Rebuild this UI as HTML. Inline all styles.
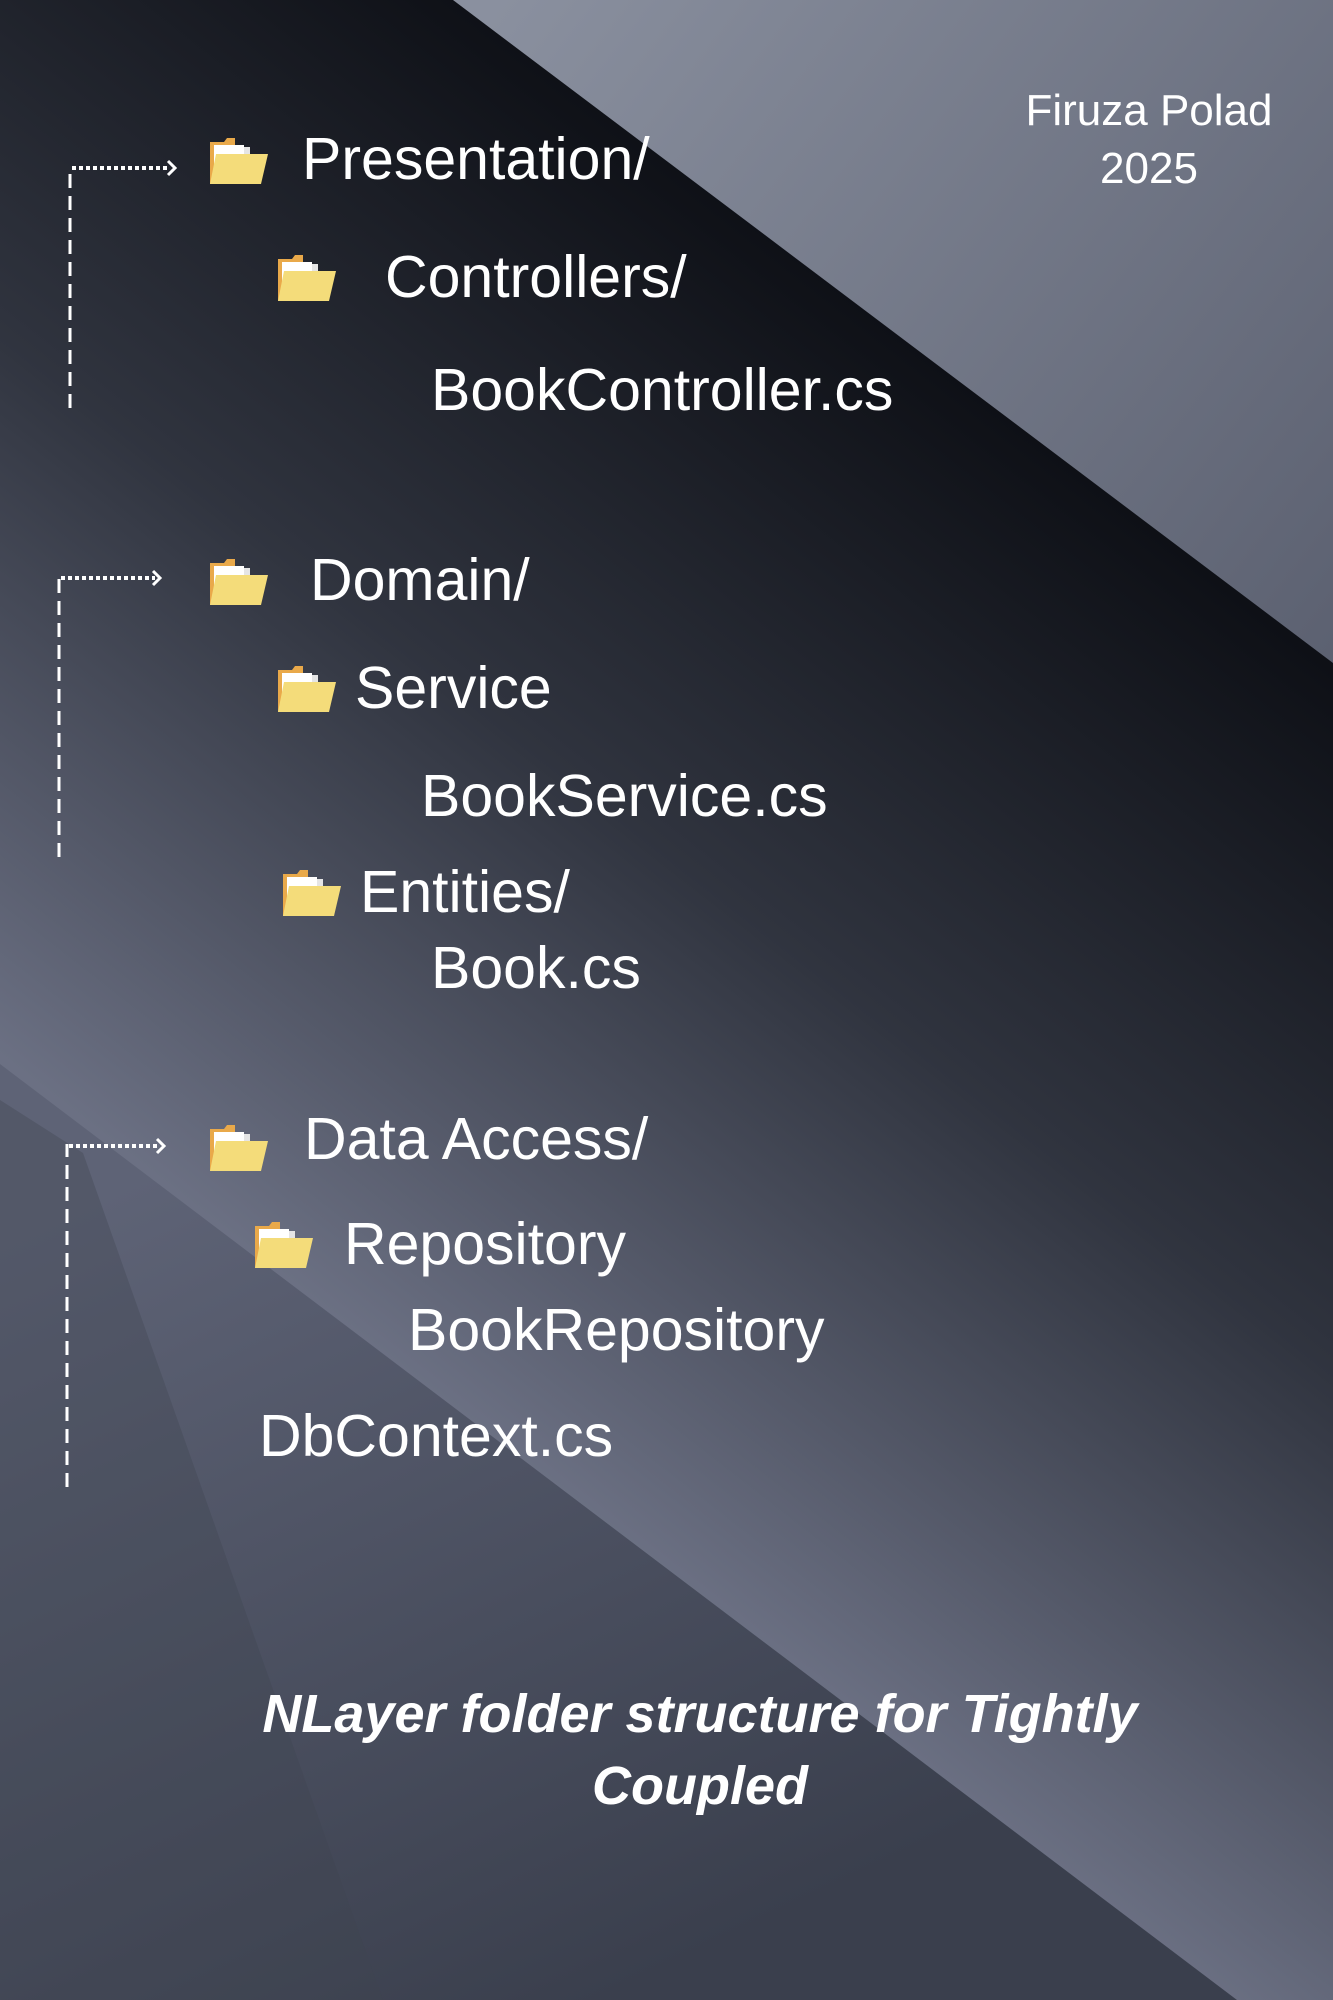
<!DOCTYPE html>
<html><head><meta charset="utf-8"><style>
html,body{margin:0;padding:0;}
body{width:1333px;height:2000px;overflow:hidden;position:relative;font-family:"Liberation Sans",sans-serif;}
svg.bg{position:absolute;left:0;top:0;}
.t{position:absolute;color:#fff;font-size:59px;white-space:nowrap;line-height:1;}
.f{position:absolute;width:58px;height:46px;}
</style></head><body>
<svg class="bg" width="1333" height="2000" viewBox="0 0 1333 2000">
<defs>
<linearGradient id="base" x1="250" y1="1250" x2="950" y2="350" gradientUnits="userSpaceOnUse">
<stop offset="0" stop-color="#6b7083"/><stop offset="0.5" stop-color="#30343f"/><stop offset="1" stop-color="#0d0f15"/></linearGradient>
<linearGradient id="tr" x1="500" y1="0" x2="1333" y2="650" gradientUnits="userSpaceOnUse">
<stop offset="0" stop-color="#8a909f"/><stop offset="1" stop-color="#5c6171"/></linearGradient>
<linearGradient id="low" x1="200" y1="1150" x2="600" y2="2000" gradientUnits="userSpaceOnUse">
<stop offset="0" stop-color="#5e6376"/><stop offset="1" stop-color="#3a3f4d"/></linearGradient>
</defs>
<rect width="1333" height="2000" fill="url(#base)"/>
<polygon points="453,0 1333,0 1333,663" fill="url(#tr)"/>
<polygon points="0,1064 1237,2000 0,2000" fill="url(#low)"/>
<polygon points="0,1100 83,1153 383,2000 0,2000" fill="#40444f" opacity="0.35"/>
<g stroke="#fff" fill="none" stroke-width="3">
<path d="M70,408 V168" stroke-dasharray="14,8"/><path d="M72,168 H170" stroke-dasharray="4,3" stroke-width="4"/><path d="M168,161 l7,7 l-7,7"/>
<path d="M59,857 V578" stroke-dasharray="14,8"/><path d="M61,578 H155" stroke-dasharray="4,3" stroke-width="4"/><path d="M153,571 l7,7 l-7,7"/>
<path d="M67,1487 V1144" stroke-dasharray="14,8"/><path d="M69,1146 H159" stroke-dasharray="4,3" stroke-width="4"/><path d="M157,1139 l7,7 l-7,7"/>
</g>
</svg>
<svg width="0" height="0" style="position:absolute"><defs>
<symbol id="fd" viewBox="0 0 58 46"><path d="M0,4 h14 l3,-4 h8 v6 h0 v40 h-25z" fill="#e9a94a"/><rect x="4" y="7" width="30" height="30" fill="#fff"/><rect x="34" y="9" width="6" height="28" fill="#e5e5e5"/><path d="M0,46 L6,16 H58 L51,46z" fill="#f4dc7a"/></symbol></defs></svg>
<svg class="f" style="left:210px;top:138px"><use href="#fd"/></svg>
<svg class="f" style="left:278px;top:255px"><use href="#fd"/></svg>
<svg class="f" style="left:210px;top:559px"><use href="#fd"/></svg>
<svg class="f" style="left:278px;top:666px"><use href="#fd"/></svg>
<svg class="f" style="left:283px;top:870px"><use href="#fd"/></svg>
<svg class="f" style="left:210px;top:1125px"><use href="#fd"/></svg>
<svg class="f" style="left:255px;top:1222px"><use href="#fd"/></svg>
<div class="t" style="left:302px;top:130px">Presentation/</div>
<div class="t" style="left:385px;top:248px">Controllers/</div>
<div class="t" style="left:431px;top:361px">BookController.cs</div>
<div class="t" style="left:310px;top:551px">Domain/</div>
<div class="t" style="left:355px;top:659px">Service</div>
<div class="t" style="left:421px;top:767px">BookService.cs</div>
<div class="t" style="left:360px;top:863px">Entities/</div>
<div class="t" style="left:431px;top:939px">Book.cs</div>
<div class="t" style="left:304px;top:1110px">Data Access/</div>
<div class="t" style="left:344px;top:1215px">Repository</div>
<div class="t" style="left:408px;top:1301px">BookRepository</div>
<div class="t" style="left:259px;top:1407px">DbContext.cs</div>
<div style="position:absolute;left:949px;width:400px;top:82px;text-align:center;color:#fff;font-size:44px;line-height:58px;">Firuza Polad<br>2025</div>
<div style="position:absolute;left:200px;width:1000px;top:1678px;text-align:center;color:#fff;font-size:54px;font-weight:bold;font-style:italic;line-height:72px;">NLayer folder structure for Tightly<br>Coupled</div>
</body></html>
